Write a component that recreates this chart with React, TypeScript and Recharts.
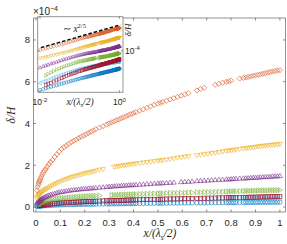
import React from 'react';
import { ScatterChart, Scatter, XAxis, YAxis } from 'recharts';

// sample positions along x/(lambda_s/2), shared by all runs
const xPos = [
  0.004, 0.007, 0.01, 0.012, 0.014, 0.016, 0.019, 0.022, 0.026, 0.03, 0.035,
  0.04, 0.046, 0.053, 0.06, 0.068, 0.077, 0.086, 0.095, 0.105, 0.115, 0.125,
  0.135, 0.145, 0.155, 0.165, 0.175, 0.185, 0.195, 0.205, 0.215, 0.225, 0.235,
  0.245, 0.26, 0.275, 0.29, 0.3, 0.31, 0.32, 0.33, 0.34, 0.35,
  0.36, 0.37, 0.38, 0.39, 0.4, 0.41, 0.425, 0.44, 0.455, 0.47,
  0.485, 0.5, 0.51, 0.52, 0.535, 0.55, 0.565, 0.58, 0.595, 0.61,
  0.625, 0.64, 0.66, 0.675, 0.69, 0.705, 0.72, 0.735, 0.75, 0.765,
  0.78, 0.79, 0.8, 0.81, 0.82, 0.835, 0.85, 0.86, 0.87, 0.88,
  0.89, 0.9, 0.91, 0.92, 0.93, 0.94, 0.95, 0.96, 0.97, 0.98,
  0.99, 1.0,
];

// delta/H in units of 1e-4 (null = gap in the record)
const orangeY = [
  0.8, 0.95, 1.07, 1.15, 1.22, 1.28, 1.36, 1.45, 1.55, 1.65, 1.74,
  1.83, 1.93, 2.05, 2.15, 2.26, 2.4, 2.52, 2.65, 2.78, 2.86, 2.94,
  3.02, 3.1, 3.17, 3.23, 3.3, 3.36, 3.42, 3.48, 3.54, 3.6, 3.66,
  3.72, 3.8, 3.87, 3.95, 4.0, 4.05, 4.1, 4.15, 4.2, 4.25,
  4.3, 4.35, 4.4, 4.45, 4.5, 4.54, 4.61, 4.68, 4.75, 4.82,
  4.89, 4.95, 4.99, 5.03, 5.09, 5.15, 5.21, 5.27, 5.33, 5.39,
  5.45, null, 5.58, 5.65, 5.71, null, null, 5.85, 5.9, 5.95,
  5.99, 6.02, 6.05, null, null, 6.15, 6.18, 6.2, 6.23, 6.25,
  6.28, 6.3, 6.33, 6.35, 6.38, 6.41, 6.44, 6.46, 6.49, 6.51,
  6.53, 6.55,
];
const yellowY = [
  0.42, 0.48, 0.54, 0.57, 0.6, 0.63, 0.66, 0.7, 0.74, 0.78, 0.82,
  0.85, 0.89, 0.94, 0.99, 1.04, 1.1, 1.15, 1.2, 1.25, 1.3, 1.34,
  1.38, 1.43, 1.46, 1.49, 1.53, 1.56, 1.6, 1.63, 1.65, 1.68, 1.71,
  1.74, 1.78, 1.82, null, null, null, 1.92, 1.94, 1.96, 1.98,
  2.0, 2.01, 2.03, 2.05, 2.07, 2.08, 2.1, 2.13, 2.15, 2.17,
  2.2, 2.22, 2.23, 2.25, 2.27, 2.3, 2.33, 2.36, 2.38, 2.41,
  2.43, null, 2.48, 2.5, 2.53, 2.55, 2.58, 2.6, 2.63, 2.66,
  2.69, 2.7, 2.72, 2.73, 2.75, 2.78, 2.8, 2.82, 2.83, 2.85,
  2.86, 2.88, 2.9, 2.91, 2.93, 2.94, 2.95, 2.97, 2.98, 2.99,
  3.0, 3.01,
];
const purpleY = [
  0.18, 0.22, 0.25, 0.28, 0.3, 0.32, 0.35, 0.37, 0.4, 0.43, 0.46,
  0.49, 0.52, 0.55, 0.58, 0.61, 0.64, 0.67, 0.7, 0.72, 0.74, 0.76,
  0.78, 0.8, 0.81, 0.82, 0.84, 0.85, 0.86, 0.87, 0.88, 0.89, 0.9,
  0.91, 0.93, 0.94, 0.96, 0.97, 0.98, 0.99, 1.0, 1.0, 1.01,
  1.02, 1.03, 1.04, 1.04, 1.05, 1.06, 1.07, 1.08, 1.09, 1.1,
  1.12, 1.13, 1.13, 1.14, 1.15, 1.16, 1.17, null, 1.19, 1.2,
  1.21, 1.22, 1.24, 1.25, 1.26, 1.27, 1.28, 1.29, 1.3, 1.31,
  1.32, 1.32, 1.33, 1.34, 1.35, 1.36, 1.37, 1.37, 1.38, 1.39,
  1.4, 1.4, 1.41, 1.42, 1.43, 1.43, 1.44, 1.45, 1.46, 1.46,
  1.47, 1.48,
];
const greenY = [
  null, null, null, null, 0.13, 0.15, 0.17, 0.19, 0.21, 0.23, 0.25,
  0.27, 0.29, 0.31, 0.33, 0.35, 0.37, 0.39, 0.41, 0.42, 0.43, 0.44,
  0.45, 0.46, 0.47, 0.48, 0.49, 0.5, 0.5, 0.51, 0.52, 0.52, 0.53,
  0.54, 0.55, null, null, null, 0.57, 0.57, 0.58, 0.58, 0.59,
  0.59, 0.6, 0.6, 0.6, 0.61, 0.61, 0.62, 0.62, 0.63, 0.63,
  0.64, 0.64, 0.65, 0.65, 0.66, 0.66, 0.67, 0.67, 0.68, 0.68,
  0.69, 0.69, 0.7, 0.7, 0.71, 0.71, 0.72, 0.72, 0.73, 0.73,
  0.74, 0.74, 0.75, 0.75, 0.75, 0.76, 0.76, 0.77, 0.77, 0.77,
  0.78, 0.78, 0.78, 0.79, 0.79, 0.79, 0.79, 0.8, 0.8, 0.8,
  0.8, 0.81,
];
const lightBlueY = [
  0.05, 0.06, 0.07, 0.08, 0.085, 0.09, 0.1, 0.11, 0.12, 0.13, 0.14,
  0.15, 0.16, 0.17, 0.18, 0.19, 0.2, 0.21, 0.22, 0.23, 0.235, 0.24,
  0.245, 0.25, 0.255, 0.26, 0.265, 0.27, 0.275, 0.28, 0.285, 0.29, 0.29,
  0.295, 0.3, 0.305, 0.31, 0.312, 0.315, 0.318, 0.32, 0.322, 0.325,
  0.328, 0.33, 0.332, 0.335, 0.338, 0.34, 0.342, 0.345, 0.348, 0.35,
  0.352, 0.355, 0.357, 0.36, 0.362, 0.365, 0.368, 0.37, 0.372, 0.375,
  0.378, 0.38, 0.385, 0.387, 0.39, 0.39, 0.39, 0.393, 0.395, 0.398,
  0.4, 0.4, 0.4, 0.402, 0.405, 0.407, 0.41, 0.41, 0.41, 0.412,
  0.415, 0.415, 0.415, 0.418, 0.42, 0.42, 0.42, 0.422, 0.425, 0.425,
  0.425, 0.43,
];
const darkRedY = [
  null, null, null, null, 0.06, 0.065, 0.072, 0.08, 0.088, 0.095, 0.105,
  0.115, 0.125, 0.135, 0.145, 0.155, 0.165, 0.175, 0.185, 0.195, 0.2, 0.21,
  0.215, 0.22, 0.23, 0.235, 0.24, 0.245, 0.25, 0.255, 0.26, 0.265, 0.27,
  0.275, 0.28, 0.29, 0.295, 0.297, 0.3, 0.305, 0.31, 0.315, 0.32,
  0.325, 0.33, 0.332, 0.335, 0.337, 0.34, 0.345, 0.35, 0.355, 0.36,
  0.365, 0.37, 0.372, 0.375, 0.38, 0.385, 0.387, 0.39, 0.395, 0.4,
  0.402, 0.405, 0.41, 0.415, 0.42, 0.422, 0.425, 0.43, 0.435, 0.437,
  0.44, 0.442, 0.445, 0.447, 0.45, 0.455, 0.46, 0.462, 0.465, 0.467,
  0.47, 0.472, 0.475, 0.477, 0.48, 0.482, 0.485, 0.487, 0.49, 0.492,
  0.495, 0.5,
];
const blueY = [
  0.03, 0.035, 0.04, 0.043, 0.046, 0.048, 0.052, 0.055, 0.059, 0.063, 0.067,
  0.071, 0.075, 0.079, 0.083, 0.087, 0.092, 0.096, 0.1, 0.104, 0.107, 0.11,
  0.113, 0.116, 0.119, 0.122, 0.124, 0.127, 0.129, 0.131, 0.134, 0.136, 0.138,
  0.14, 0.143, 0.146, 0.149, 0.15, 0.152, 0.154, 0.156, 0.157, 0.159,
  0.16, 0.162, 0.163, 0.165, 0.166, 0.168, 0.17, 0.172, 0.174, 0.176,
  0.178, 0.18, 0.181, 0.182, 0.184, 0.186, 0.188, 0.189, 0.191, 0.193,
  0.195, 0.196, 0.198, 0.2, 0.201, 0.203, 0.204, 0.206, 0.207, 0.209,
  0.21, 0.211, 0.212, 0.213, 0.214, 0.216, 0.217, 0.218, 0.219, 0.22,
  0.221, 0.222, 0.223, 0.224, 0.225, 0.226, 0.227, 0.228, 0.229, 0.23,
  0.231, 0.232,
];

// ~ x^(2/5) guide in the inset
const guideX = [0.0105, 1.05];
const guideY = [1.3, 8.5];

const xTicks = [0, 0.1, 0.2, 0.3, 0.4, 0.5, 0.6, 0.7, 0.8, 0.9, 1];
const yTicks = [0, 2, 4, 6, 8];
const insetXTicks = [0.01, 1];
const insetXLabels = ['-2', '0'];
const insetYTicks = [1];
const insetYLabels = ['-4'];

const AX = '#262626';
const SANS = 'Liberation Sans, Arial, sans-serif';
const SERIF = 'Liberation Serif, Times New Roman, serif';

type Pt = { x: number; y: number };
const toPoints = (xs: number[], ys: (number | null)[]): Pt[] =>
  xs.map((x, i) => ({ x, y: ys[i] as number })).filter((p) => p.y != null);

const series = [
  { key: 'blue', color: '#0072BD', kind: 'circle', ys: blueY },
  { key: 'lightblue', color: '#4DBEEE', kind: 'left', ys: lightBlueY },
  { key: 'darkred', color: '#A2142F', kind: 'square', ys: darkRedY },
  { key: 'green', color: '#77AC30', kind: 'right', ys: greenY },
  { key: 'purple', color: '#7E2F8E', kind: 'up', ys: purpleY },
  { key: 'yellow', color: '#EDB120', kind: 'down', ys: yellowY },
  { key: 'orange', color: '#D95319', kind: 'diamond', ys: orangeY },
];

function Marker({ cx, cy, kind, color, r, sw }: any) {
  if (cx == null || cy == null) return <g />;
  const st = { fill: 'none', stroke: color, strokeWidth: sw };
  const pts = (a: number[][]) => a.map((p) => `${cx + p[0] * r},${cy + p[1] * r}`).join(' ');
  switch (kind) {
    case 'diamond':
      return <polygon points={pts([[0, -1], [1, 0], [0, 1], [-1, 0]])} {...st} />;
    case 'down':
      return <polygon points={pts([[-1, -0.6], [1, -0.6], [0, 1]])} {...st} />;
    case 'up':
      return <polygon points={pts([[-1, 0.6], [1, 0.6], [0, -1]])} {...st} />;
    case 'right':
      return <polygon points={pts([[-0.6, -1], [-0.6, 1], [1, 0]])} {...st} />;
    case 'left':
      return <polygon points={pts([[0.6, -1], [0.6, 1], [-1, 0]])} {...st} />;
    case 'square':
      return <rect x={cx - r * 0.8} y={cy - r * 0.8} width={r * 1.6} height={r * 1.6} {...st} />;
    default:
      return <circle cx={cx} cy={cy} r={r * 0.85} {...st} />;
  }
}

const axisLine = { stroke: AX, strokeWidth: 0.5 };

const tickBottom = (p: any) => (
  <g>
    <line x1={p.x} x2={p.x} y1={p.y} y2={p.y - 2.5} stroke={AX} strokeWidth={0.5} />
    <text x={p.x} y={p.y + 13.5} textAnchor="middle" fontSize={9.5} fill={AX} fontFamily={SANS}>
      {p.payload.value}
    </text>
  </g>
);
const tickTop = (p: any) => <line x1={p.x} x2={p.x} y1={p.y} y2={p.y + 2.5} stroke={AX} strokeWidth={0.5} />;
const tickLeft = (p: any) => (
  <g>
    <line x1={p.x} x2={p.x + 2.5} y1={p.y} y2={p.y} stroke={AX} strokeWidth={0.5} />
    <text x={p.x - 3.5} y={p.y + 3.5} textAnchor="end" fontSize={9.5} fill={AX} fontFamily={SANS}>
      {p.payload.value}
    </text>
  </g>
);
const tickRight = (p: any) => <line x1={p.x} x2={p.x - 2.5} y1={p.y} y2={p.y} stroke={AX} strokeWidth={0.5} />;

const insetBottom = (p: any) => (
  <g>
    <line x1={p.x} x2={p.x} y1={p.y} y2={p.y - 2} stroke={AX} strokeWidth={0.5} />
    <text x={p.x} y={p.y + 12.7} textAnchor="middle" fontSize={8.5} fill={AX} fontFamily={SANS}>
      10<tspan dy={-3.5} fontSize={6}>{insetXLabels[p.index]}</tspan>
    </text>
  </g>
);
const insetTop = (p: any) => <line x1={p.x} x2={p.x} y1={p.y} y2={p.y + 2} stroke={AX} strokeWidth={0.5} />;
const insetLeft = (p: any) => <line x1={p.x} x2={p.x + 2} y1={p.y} y2={p.y} stroke={AX} strokeWidth={0.5} />;
const insetRight = (p: any) => (
  <g>
    <line x1={p.x} x2={p.x - 2} y1={p.y} y2={p.y} stroke={AX} strokeWidth={0.5} />
    <text x={p.x + 2} y={p.y + 3} fontSize={8.5} fill={AX} fontFamily={SANS}>
      10<tspan dy={-3.5} fontSize={6}>{insetYLabels[p.index]}</tspan>
    </text>
  </g>
);

// inset plot box (pixels)
const IN = { left: 37.7, top: 16.7, right: 123, bottom: 92.3 };

export default function App() {
  const guide = guideX.map((x, i) => ({ x, y: guideY[i] }));
  return (
    <div style={{ position: 'absolute', left: 0, top: 0, width: 287, height: 244, background: '#fff' }}>
      <div style={{ position: 'absolute', left: 0, top: 0 }}>
        <ScatterChart width={287} height={244} margin={{ top: 17, right: 0.5, bottom: 0, left: 0 }}>
          <XAxis dataKey="x" type="number" domain={[-0.01, 1.023]} ticks={xTicks} interval={0} height={32}
            tickSize={0} tickMargin={0} tick={tickBottom} tickLine={false} axisLine={axisLine} allowDataOverflow />
          <XAxis xAxisId="top" orientation="top" dataKey="x" type="number" domain={[-0.01, 1.023]} ticks={xTicks}
            interval={0} height={1} tickSize={0} tickMargin={0} tick={tickTop} tickLine={false} axisLine={axisLine} allowDataOverflow />
          <YAxis dataKey="y" type="number" domain={[-0.24, 9.05]} ticks={yTicks} interval={0} width={33.5}
            tickSize={0} tickMargin={0} tick={tickLeft} tickLine={false} axisLine={axisLine} allowDataOverflow />
          <YAxis yAxisId="right" orientation="right" dataKey="y" type="number" domain={[-0.24, 9.05]} ticks={yTicks}
            interval={0} width={1} tickSize={0} tickMargin={0} tick={tickRight} tickLine={false} axisLine={axisLine} allowDataOverflow />
          {series.map((s) => (
            <Scatter key={s.key} data={toPoints(xPos, s.ys)} isAnimationActive={false}
              shape={(p: any) => <Marker cx={p.cx} cy={p.cy} kind={s.kind} color={s.color} r={2.6} sw={0.6} />} />
          ))}
        </ScatterChart>
      </div>
      <div style={{ position: 'absolute', left: IN.left, top: IN.top, width: IN.right - IN.left, height: IN.bottom - IN.top, background: '#fff' }} />
      <div style={{ position: 'absolute', left: 0, top: 0 }}>
        <ScatterChart width={287} height={244}
          margin={{ top: IN.top - 1, right: 287 - IN.right - 1, bottom: 244 - IN.bottom - 1, left: 0 }}>
          <XAxis dataKey="x" type="number" scale="log" domain={[0.00875, 1.225]} ticks={insetXTicks} interval={0} height={1}
            tickSize={0} tickMargin={0} tick={insetBottom} tickLine={false} axisLine={axisLine} allowDataOverflow />
          <XAxis xAxisId="top" orientation="top" dataKey="x" type="number" scale="log" domain={[0.00875, 1.225]}
            ticks={insetXTicks} interval={0} height={1} tickSize={0} tickMargin={0} tick={insetTop} tickLine={false}
            axisLine={axisLine} allowDataOverflow />
          <YAxis dataKey="y" type="number" scale="log" domain={[0.033, 16.6]} ticks={insetYTicks} interval={0} width={IN.left}
            tickSize={0} tickMargin={0} tick={insetLeft} tickLine={false} axisLine={axisLine} allowDataOverflow />
          <YAxis yAxisId="right" orientation="right" dataKey="y" type="number" scale="log" domain={[0.033, 16.6]}
            ticks={insetYTicks} interval={0} width={1} tickSize={0} tickMargin={0} tick={insetRight} tickLine={false}
            axisLine={axisLine} allowDataOverflow />
          {series.map((s) => (
            <Scatter key={s.key} data={toPoints(xPos, s.ys)} isAnimationActive={false}
              shape={(p: any) => <Marker cx={p.cx} cy={p.cy} kind={s.kind} color={s.color} r={1.9} sw={0.5} />} />
          ))}
          <Scatter data={guide} isAnimationActive={false} shape={() => <g />}
            line={{ stroke: '#000', strokeWidth: 1.4, strokeDasharray: '3.5 2' }} />
        </ScatterChart>
      </div>
      <svg width={287} height={244} style={{ position: 'absolute', left: 0, top: 0 }}>
        <text x={33} y={15} fontSize={10} fill={AX} fontFamily={SANS}>
          ×10<tspan dy={-4} fontSize={7}>−4</tspan>
        </text>
        <text x={160} y={237} textAnchor="middle" fontSize={11.5} fill={AX} fontFamily={SERIF} fontStyle="italic">
          x/(λ<tspan dy={2.5} fontSize={7.5}>s</tspan><tspan dy={-2.5}>/2)</tspan>
        </text>
        <text transform="translate(15,115) rotate(-90)" textAnchor="middle" fontSize={11.5} fill={AX}
          fontFamily={SERIF} fontStyle="italic">
          δ/H
        </text>
        <text x={80} y={105} textAnchor="middle" fontSize={9.5} fill={AX} fontFamily={SERIF} fontStyle="italic">
          x/(λ<tspan dy={2} fontSize={6.5}>s</tspan><tspan dy={-2}>/2)</tspan>
        </text>
        <text transform="translate(131,30) rotate(-90)" textAnchor="middle" fontSize={9} fill={AX}
          fontFamily={SERIF} fontStyle="italic">
          δ/H
        </text>
        <text x={63} y={32} fontSize={9.5} fill={AX} fontFamily={SERIF}>
          ∼ <tspan fontStyle="italic">x</tspan><tspan dy={-4} fontSize={6.5}>2/5</tspan>
        </text>
      </svg>
    </div>
  );
}
